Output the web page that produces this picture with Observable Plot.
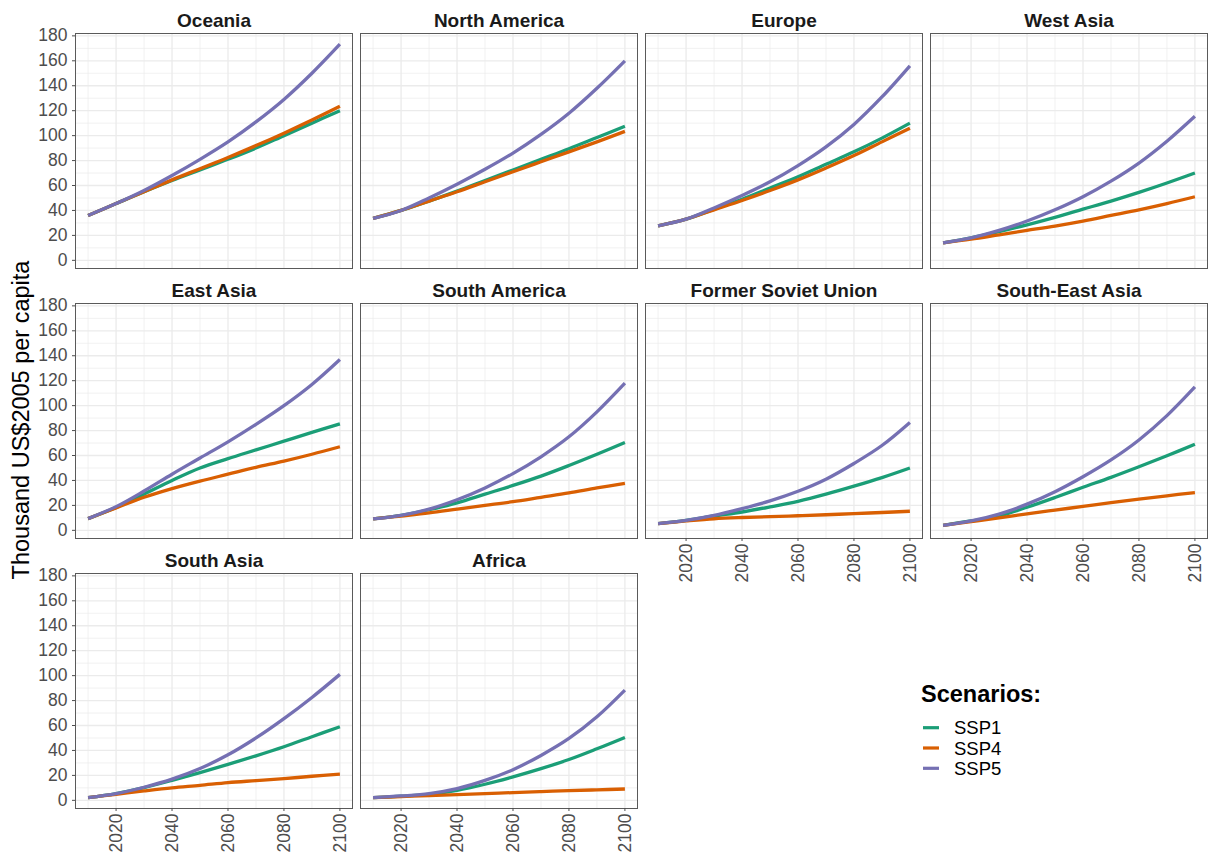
<!DOCTYPE html>
<html>
<head>
<meta charset="utf-8">
<script src="https://cdn.jsdelivr.net/npm/d3@7"></script>
<script src="https://cdn.jsdelivr.net/npm/@observablehq/plot@0.6"></script>
<style>
  html, body { margin: 0; padding: 0; background: #fff; }
  #chart { position: relative; width: 1213px; height: 857px; overflow: hidden;
           font-family: "Liberation Sans", Arial, sans-serif; background: #fff; }
  .ylab { position: absolute; left: 21px; top: 420px; transform: translate(-50%, -50%) rotate(-90deg);
          font-size: 23.5px; white-space: nowrap; color: #000; }
</style>
</head>
<body>
<div id="chart"></div>
<script>
// GDP per capita projections (thousand US$2005) by region and scenario
const years = [2010, 2020, 2030, 2040, 2050, 2060, 2070, 2080, 2090, 2100];
const regions = ["Oceania", "North America", "Europe", "West Asia",
                 "East Asia", "South America", "Former Soviet Union", "South-East Asia",
                 "South Asia", "Africa"];
const scenarios = ["SSP1", "SSP4", "SSP5"];
const scenarioColors = ["#1b9e77", "#d95f02", "#7570b3"];

// one row per region, in the order of `regions`
const ssp1 = [
  [36, 45.5, 55, 64, 72.5, 81, 90, 100, 110, 120],
  [33.6, 40, 47.5, 55.5, 64, 72.5, 81, 89.5, 98.5, 107.5],
  [27.7, 33, 41, 49, 58, 67, 77, 87, 98, 110],
  [14, 18, 23, 28.5, 34.5, 41, 47.5, 54.5, 62, 70],
  [9.4, 18.3, 29, 40, 50, 57.5, 64.5, 71.5, 78.5, 85.4],
  [9.1, 12, 16.5, 22, 29, 36, 43.5, 52, 61, 70.4],
  [5.4, 8, 11.5, 14.7, 18.8, 23.3, 29, 35.4, 42.3, 50],
  [4, 7.5, 11.5, 18.5, 26.3, 34.5, 42.5, 51, 59.8, 69],
  [2.1, 5.4, 10.2, 16, 22.2, 28.8, 35.7, 43, 51, 59],
  [2.1, 3.3, 4.8, 8, 12.9, 18.8, 25.4, 32.7, 41.3, 50.4]
];
const ssp4 = [
  [36, 45.5, 55, 64.5, 73.5, 82.5, 92, 102, 112.5, 123.5],
  [33.6, 40, 47.5, 55, 63, 71, 79, 87, 95, 103.4],
  [27.7, 33, 40.5, 48, 56, 64.5, 74, 84, 95, 106],
  [14, 17, 20.5, 24, 27.5, 31.5, 36, 40.5, 45.5, 51],
  [9.4, 18, 26.5, 33.5, 39.5, 45, 50.5, 55.5, 61, 67],
  [9.1, 11.5, 14, 17, 20, 23, 26.5, 30, 34, 37.6],
  [5.4, 7.5, 9.3, 10.3, 11, 11.7, 12.5, 13.4, 14.3, 15.3],
  [4, 7, 10, 13.2, 16.2, 19.2, 22.2, 25, 27.7, 30.3],
  [2.1, 4.8, 7.5, 10, 12, 14.2, 15.8, 17.4, 19.3, 21],
  [2.1, 3, 3.8, 4.6, 5.4, 6.2, 7, 7.8, 8.4, 9.1]
];
const ssp5 = [
  [36, 45.5, 56, 68, 81, 95, 111, 129, 150, 173.3],
  [33.6, 40, 50, 61, 73, 86, 101, 118, 138, 160],
  [27.7, 33, 42, 52, 63, 76, 91, 109, 131, 156],
  [14, 18, 24, 31.5, 40.5, 51, 63.5, 78, 95.5, 115.5],
  [9.4, 19, 31.5, 45, 58, 71, 85, 100, 117, 137],
  [9.1, 12, 17, 24.5, 34, 45.5, 59, 75, 95, 118],
  [5.4, 8, 12, 17.4, 23.6, 31.3, 41, 53.6, 68, 86.5],
  [4, 7.5, 13, 21, 31, 43, 56.5, 72.5, 92, 115],
  [2.1, 5.3, 10.5, 17, 25.5, 36.5, 50, 65.5, 82.5, 101],
  [2.1, 3.5, 5.4, 9.4, 16, 24.6, 36, 49.6, 67, 88.4]
];

// axis breaks
const yTicks = [0, 20, 40, 60, 80, 100, 120, 140, 160, 180];
const yMinor = [10, 30, 50, 70, 90, 110, 130, 150, 170];
const xTicks = [2020, 2040, 2060, 2080, 2100];
const xMinor = [2010, 2030, 2050, 2070, 2090];
const yTitle = "Thousand US$2005 per capita";
const legendTitle = "Scenarios:";

// facet grid geometry (4 columns, wrapped)
const nCol = 4;
const panelW = 277, panelH = 235;
const colLeft = [75, 360, 645, 930];
const rowTop = [33, 303, 573];
const mL = 75, mT = 33, mR = 8, mB = 48;
const font = "'Liberation Sans', Arial, sans-serif";
const series = [ssp1, ssp4, ssp5];

const chart = document.getElementById("chart");

regions.forEach((region, i) => {
  const col = i % nCol, row = Math.floor(i / nCol);
  const belowEmpty = i + nCol >= regions.length; // last panel in its column gets the x axis
  const data = [];
  scenarios.forEach((s, si) => {
    series[si][i].forEach((v, k) => data.push({year: years[k], value: v, scenario: s}));
  });

  const marks = [
    Plot.gridY({ticks: yMinor, stroke: "#ebebeb", strokeOpacity: 1, strokeWidth: 0.7}),
    Plot.gridX({ticks: xMinor, stroke: "#ebebeb", strokeOpacity: 1, strokeWidth: 0.7}),
    Plot.gridY({ticks: yTicks, stroke: "#ebebeb", strokeOpacity: 1, strokeWidth: 1.3}),
    Plot.gridX({ticks: xTicks, stroke: "#ebebeb", strokeOpacity: 1, strokeWidth: 1.3}),
    Plot.lineY(data, {x: "year", y: "value", z: "scenario", stroke: "scenario",
                      strokeWidth: 3.3, strokeLinecap: "butt", curve: "catmull-rom"}),
    Plot.frame({stroke: "#5a5a5a", strokeWidth: 1}),
    Plot.text([region], {text: d => d, frameAnchor: "top", lineAnchor: "bottom", dy: -7,
                         fontSize: 19, fontWeight: "bold", fill: "#1a1a1a"})
  ];
  if (col === 0) {
    marks.push(Plot.axisY({ticks: yTicks, tickSize: 3, tickPadding: 5, fontSize: 17.5,
                           color: "#4d4d4d", label: null, tickFormat: d => String(d)}));
  }
  if (belowEmpty) {
    marks.push(Plot.axisX({ticks: xTicks, tickSize: 3, tickPadding: 2, tickRotate: -90, fontSize: 17.5,
                           color: "#4d4d4d", label: null, tickFormat: d => String(d)}));
  }

  const svg = Plot.plot({
    width: mL + panelW + mR,
    height: mT + panelH + mB,
    marginLeft: mL, marginTop: mT, marginRight: mR, marginBottom: mB,
    x: {domain: [2005.5, 2104.5], axis: null},
    y: {domain: [-6.55, 181.9], axis: null},
    color: {domain: scenarios, range: scenarioColors},
    style: {position: "absolute", left: `${colLeft[col] - mL}px`, top: `${rowTop[row] - mT}px`,
            background: "transparent", overflow: "visible", fontFamily: font, maxWidth: "none"},
    marks
  });
  chart.appendChild(svg);
});

// shared y-axis title
const yl = document.createElement("div");
yl.className = "ylab";
yl.textContent = yTitle;
chart.appendChild(yl);

// scenario legend
const leg = d3.select(chart).append("svg")
  .attr("width", 300).attr("height", 130)
  .style("position", "absolute").style("left", "900px").style("top", "670px")
  .style("font-family", font);
leg.append("text").attr("x", 21).attr("y", 32)
  .attr("font-size", 23.5).attr("font-weight", "bold").attr("fill", "#000").text(legendTitle);
scenarios.forEach((s, k) => {
  const cy = 57.7 + k * 20.3;
  leg.append("line").attr("x1", 23).attr("x2", 39).attr("y1", cy).attr("y2", cy)
    .attr("stroke", scenarioColors[k]).attr("stroke-width", 3.2);
  leg.append("text").attr("x", 54).attr("y", cy + 6.6)
    .attr("font-size", 18.5).attr("fill", "#000").text(s);
});
</script>
</body>
</html>
